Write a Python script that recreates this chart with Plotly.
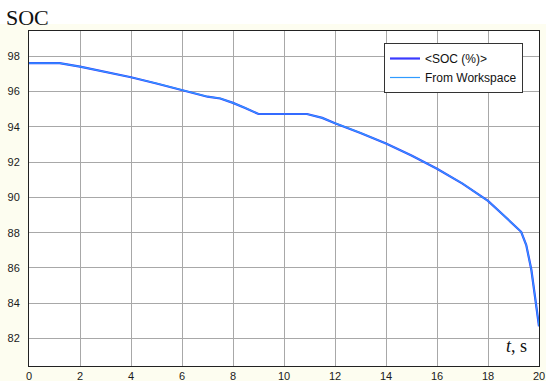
import plotly.graph_objects as go

t_vals = [0, 1.2, 2, 3, 4, 5, 6, 7, 7.5, 8, 8.5, 9, 10, 10.9, 11.5, 12, 13, 14, 15, 16,
          17, 18, 18.6, 19, 19.3, 19.5, 19.7, 19.85, 20]
soc_vals = [97.6, 97.6, 97.4, 97.1, 96.8, 96.45, 96.07, 95.7, 95.6, 95.35, 95.05, 94.72,
            94.72, 94.72, 94.5, 94.2, 93.65, 93.05, 92.37, 91.62, 90.78, 89.8, 89.0,
            88.45, 88.05, 87.3, 85.9, 84.3, 82.7]
x_ticks = [0, 2, 4, 6, 8, 10, 12, 14, 16, 18, 20]
y_ticks = [82, 84, 86, 88, 90, 92, 94, 96, 98]
series_names = ["<SOC (%)>", "From Workspace"]

W, H = 546, 381
L, R, T, B = 29, 7, 31, 15
ph = H - T - B
pw = W - L - R

fig = go.Figure()
fig.add_trace(go.Scatter(x=t_vals, y=soc_vals, mode="lines", name=series_names[0],
                         line=dict(color="#3a3aff", width=2.2)))
fig.add_trace(go.Scatter(x=t_vals, y=soc_vals, mode="lines", name=series_names[1],
                         line=dict(color="#2f9bff", width=1.2)))

axis_font = dict(family="Liberation Sans, Arial", size=11, color="#1a1a1a")
fig.update_xaxes(range=[0, 20], tickvals=x_ticks, showgrid=True, gridcolor="#a8a8a8",
                 gridwidth=1, showline=True, linecolor="#222", linewidth=1, mirror=True,
                 zeroline=False, tickfont=axis_font, ticks="", ticklabelstandoff=0,
                 automargin=False)
fig.update_yaxes(range=[80.45, 99.42], tickvals=y_ticks, showgrid=True, gridcolor="#a8a8a8",
                 gridwidth=1, showline=True, linecolor="#222", linewidth=1, mirror=True,
                 zeroline=False, tickfont=axis_font, ticks="", ticklabelstandoff=6,
                 automargin=False)

def py(p):
    return (H - B - p) / ph

def px(p):
    return (p - L) / pw

fig.update_layout(
    width=W, height=H,
    margin=dict(l=L, r=R, t=T, b=B, pad=0, autoexpand=False),
    paper_bgcolor="#fdfdf0",
    plot_bgcolor="#ffffff",
    showlegend=True,
    legend=dict(x=px(384), y=py(43), xanchor="left", yanchor="top",
                bgcolor="#ffffff", bordercolor="#333", borderwidth=1,
                font=dict(family="Liberation Sans, Arial", size=12, color="#111"),
                tracegroupgap=0, itemwidth=30),
    shapes=[dict(type="rect", xref="paper", yref="paper", x0=px(0), x1=px(W),
                 y0=py(24), y1=py(0), fillcolor="#ffffff", line=dict(width=0),
                 layer="below")],
    annotations=[
        dict(text="SOC", xref="paper", yref="paper", x=px(4), y=py(18),
             xanchor="left", yanchor="middle", showarrow=False,
             font=dict(family="Liberation Serif, Times New Roman", size=22, color="#111")),
        dict(text="<i>t</i>, s", xref="paper", yref="paper", x=px(529), y=py(346),
             xanchor="right", yanchor="middle", showarrow=False,
             font=dict(family="Liberation Serif, Times New Roman", size=18, color="#111")),
    ],
)

fig.write_html("out.html", config={"displayModeBar": False},
               post_script="document.body.style.margin='0px';document.body.style.overflow='hidden';")
